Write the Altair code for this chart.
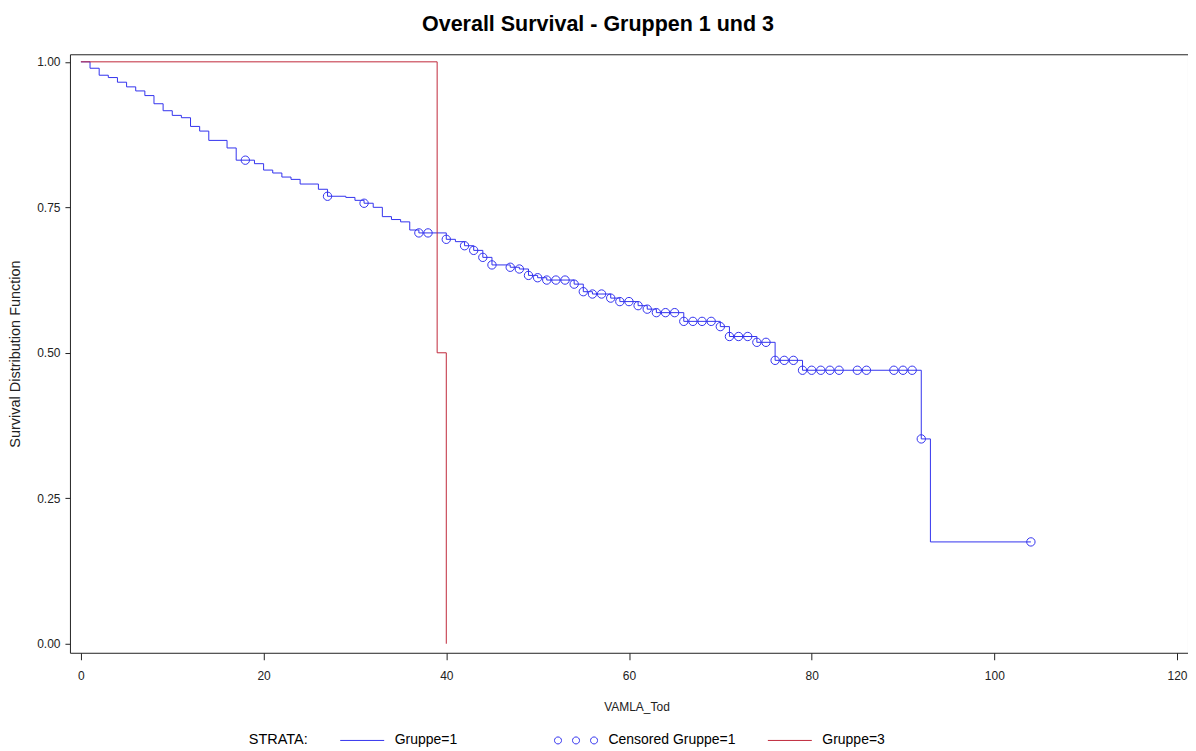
import altair as alt
import pandas as pd

# ---- Data ----
# Gruppe=1 Kaplan-Meier step function (time of drop, survival after drop)
g1_time = [0, 1, 2, 3, 4, 5, 6, 7, 8, 9, 10, 11, 12, 13, 14, 16, 17, 19, 20, 21,
           22, 23, 24, 26, 27, 29, 30, 31, 32, 33, 34, 35, 36, 37, 40, 41, 42, 43,
           44, 45, 47, 48, 49, 50, 51, 54, 55, 56, 58, 59, 61, 62, 63, 66, 70, 71,
           74, 76, 79, 92, 93, 104]
g1_surv = [1.0, 0.989, 0.977, 0.973, 0.965, 0.957, 0.950, 0.942, 0.928, 0.916,
           0.908, 0.904, 0.889, 0.881, 0.865, 0.852, 0.831, 0.825, 0.814, 0.809,
           0.802, 0.798, 0.790, 0.781, 0.769, 0.767, 0.762, 0.757, 0.750, 0.734,
           0.729, 0.725, 0.711, 0.706, 0.695, 0.691, 0.684, 0.676, 0.664, 0.651,
           0.647, 0.644, 0.633, 0.629, 0.625, 0.618, 0.605, 0.601, 0.594, 0.588,
           0.581, 0.575, 0.569, 0.554, 0.545, 0.528, 0.518, 0.487, 0.470, 0.352,
           0.175, 0.175]

# Censored observations of Gruppe=1
cens_time = [18, 27, 31, 37, 38, 40, 42, 43, 44, 45, 47, 48, 49, 50, 51, 52, 53,
             54, 55, 56, 57, 58, 59, 60, 61, 62, 63, 64, 65, 66, 67, 68, 69, 70,
             71, 72, 73, 74, 75, 76, 77, 78, 79, 80, 81, 82, 83, 85, 86, 89, 90,
             91, 92, 104]
cens_surv = [0.831, 0.769, 0.757, 0.706, 0.706, 0.695, 0.684, 0.676, 0.664, 0.651,
             0.647, 0.644, 0.633, 0.629, 0.625, 0.625, 0.625, 0.618, 0.605, 0.601,
             0.601, 0.594, 0.588, 0.588, 0.581, 0.575, 0.569, 0.569, 0.569, 0.554,
             0.554, 0.554, 0.554, 0.545, 0.528, 0.528, 0.528, 0.518, 0.518, 0.487,
             0.487, 0.487, 0.470, 0.470, 0.470, 0.470, 0.470, 0.470, 0.470, 0.470,
             0.470, 0.470, 0.352, 0.175]

# Gruppe=3 step function
g3_time = [0, 39, 40]
g3_surv = [1.0, 0.5, 0.0]

legend_entries = ["Gruppe=1", "Censored Gruppe=1", "Gruppe=3"]
x_ticks = [0, 20, 40, 60, 80, 100, 120]
y_ticks = [0.0, 0.25, 0.5, 0.75, 1.0]

BLUE = "#3333ee"
RED = "#c0283a"
FONT = "Liberation Sans"

df_g1 = pd.DataFrame({"t": g1_time, "s": g1_surv})
df_g3 = pd.DataFrame({"t": g3_time, "s": g3_surv})
df_c = pd.DataFrame({"t": cens_time, "s": cens_surv})
df_leg = pd.DataFrame({"strata": legend_entries,
                       "t": [None] * 3, "s": [None] * 3})

x_scale = alt.Scale(domain=[-1.2, 121.2], nice=False, zero=False)
y_scale = alt.Scale(domain=[-0.0155, 1.013], nice=False, zero=False)

x_enc = alt.X("t:Q", scale=x_scale,
              axis=alt.Axis(values=x_ticks, format="d", title="VAMLA_Tod",
                            tickSize=7, labelPadding=11, titlePadding=20,
                            titleX=567, domain=False, grid=False))
y_enc = alt.Y("s:Q", scale=y_scale,
              axis=alt.Axis(values=y_ticks, format=".2f",
                            title="Survival Distribution Function",
                            titleFontSize=14.5,
                            tickSize=5, labelPadding=5, titlePadding=14,
                            domain=False, grid=False))

three_circles = ("M-0.98,0A0.16,0.16,0,1,0,-0.66,0A0.16,0.16,0,1,0,-0.98,0Z"
                 "M-0.16,0A0.16,0.16,0,1,0,0.16,0A0.16,0.16,0,1,0,-0.16,0Z"
                 "M0.66,0A0.16,0.16,0,1,0,0.98,0A0.16,0.16,0,1,0,0.66,0Z")

line_g1 = alt.Chart(df_g1).mark_line(
    interpolate="step-after", color=BLUE, strokeWidth=1
).encode(x=x_enc, y=y_enc)

line_g3 = alt.Chart(df_g3).mark_line(
    interpolate="step-after", color=RED, strokeWidth=1
).encode(x=x_enc, y=y_enc)

cens = alt.Chart(df_c).mark_point(
    shape="circle", filled=False, color=BLUE, size=70, strokeWidth=1, opacity=1
).encode(x=x_enc, y=y_enc)

leg = dict(
    title="STRATA:", orient="none", legendX=179, legendY=664,
    direction="horizontal", columns=3, gridAlign="all",
    titleOrient="left", titleAnchor="middle", titleBaseline="top",
    titleFontSize=14.5, titleFontWeight="normal",
    titleFont=FONT, titleColor="#000", titlePadding=31,
    labelFontSize=14, labelFont=FONT, labelColor="#000", labelOffset=10,
    symbolSize=1936, symbolStrokeWidth=1, columnPadding=29, padding=0,
)

legend_layer = alt.Chart(df_leg).mark_point(
    filled=False, strokeWidth=1, opacity=1
).encode(
    x=x_enc, y=y_enc,
    color=alt.Color("strata:N",
                    scale=alt.Scale(domain=legend_entries, range=[BLUE, BLUE, RED]),
                    legend=alt.Legend(**leg)),
    shape=alt.Shape("strata:N",
                    scale=alt.Scale(domain=legend_entries,
                                    range=["stroke", three_circles, "stroke"]),
                    legend=alt.Legend(**leg)),
)

chart = alt.layer(line_g1, line_g3, cens, legend_layer).properties(
    width=1119, height=599,
    autosize=alt.AutoSizeParams(type="none"),
    padding={"left": 62, "top": 46, "right": 0, "bottom": 98},
    title=alt.TitleParams(
        text="Overall Survival - Gruppen 1 und 3", fontSize=21.5,
        fontWeight="bold", font=FONT, color="#000", anchor="middle",
        dx=-31, offset=19),
).configure_view(
    stroke="#222", strokeWidth=1
).configure_axis(
    labelFont=FONT, labelFontSize=12, labelColor="#222",
    titleFont=FONT, titleFontSize=12, titleFontWeight="normal", titleColor="#222",
    tickColor="#222", tickWidth=1,
)

chart.save("out.html", embed_options={"renderer": "svg", "actions": False})
